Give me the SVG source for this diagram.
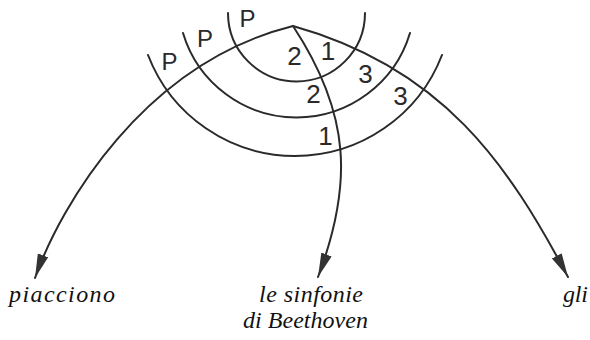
<svg xmlns="http://www.w3.org/2000/svg" width="590" height="340" viewBox="0 0 590 340">
<style>
.ln{fill:none;stroke:#2a2a2a;stroke-width:2;stroke-linecap:round}
.lab{font-family:"Liberation Sans",Arial,sans-serif;fill:#2a2a2a;text-anchor:middle}
.p{font-size:24px}
.n{font-size:26px}
.w{font-family:"Liberation Serif","Times New Roman",serif;font-style:italic;font-size:24px;fill:#111}
</style>
<defs>
<marker id="ah" markerUnits="userSpaceOnUse" markerWidth="26" markerHeight="12" refX="24" refY="5.5" orient="auto">
<path d="M0,0 L24,5.5 L0,11 z" fill="#333"/>
</marker>
</defs>
<rect width="590" height="340" fill="#fff"/>
<g id="arcs">
<path class="ln" d="M228,13 A68.3,68.3 0 0 0 365,13"/>
<path class="ln" d="M183,33 A118.5,118.5 0 0 0 410,33"/>
<path class="ln" d="M148,55 A157.5,157.5 0 0 0 442,55"/>
</g>
<g id="connectors">
<path class="ln" d="M293,26 C143,63.5 60.5,206 35,278" marker-end="url(#ah)"/>
<path class="ln" d="M293,26 C351,114 353,184.5 318,277" marker-end="url(#ah)"/>
<path class="ln" d="M293,26 C443,68 508,164 568,277" marker-end="url(#ah)"/>
</g>
<g id="labels-p">
<text class="lab p" x="169.5" y="70">P</text>
<text class="lab p" x="205" y="47">P</text>
<text class="lab p" x="247.5" y="27">P</text>
</g>
<g id="labels-n">
<text class="lab n" x="294.5" y="65">2</text>
<text class="lab n" x="328" y="60">1</text>
<text class="lab n" x="365.5" y="83">3</text>
<text class="lab n" x="313.5" y="103">2</text>
<text class="lab n" x="400.5" y="105">3</text>
<text class="lab n" x="325.5" y="145">1</text>
</g>
<g id="node-piacciono"><text class="w" x="9" y="302" textLength="106" lengthAdjust="spacing">piacciono</text></g>
<g id="node-sinfonie">
<text class="w" x="259" y="302" textLength="104" lengthAdjust="spacing">le sinfonie</text>
<text class="w" x="243" y="328" textLength="125" lengthAdjust="spacing">di Beethoven</text>
</g>
<g id="node-gli"><text class="w" x="563" y="302" textLength="25" lengthAdjust="spacing">gli</text></g>
</svg>
